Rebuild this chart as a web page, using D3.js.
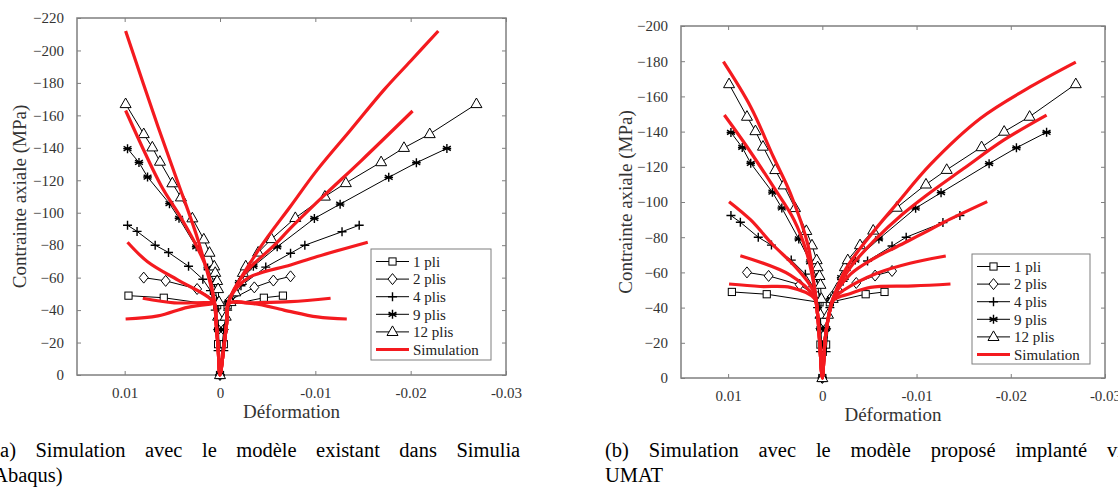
<!DOCTYPE html>
<html lang="fr">
<head>
<meta charset="UTF-8">
<title>Contrainte axiale vs déformation</title>
<style>
  body { margin: 0; background: #fff; overflow: hidden; }
  svg text { font-family: "Liberation Serif", "Tinos", "Times New Roman", "DejaVu Serif", serif !important; }
</style>
<script src="https://d3js.org/d3.v7.min.js"></script>
</head>
<body>
<svg id="chart" width="1118" height="488"></svg>
<script>
// ---- data (strain, stress in MPa) ----
const strainTicks = [0.01, 0, -0.01, -0.02, -0.03];
const strainLabels = ["0.01", "0", "-0.01", "-0.02", "-0.03"];
const stressTicksA = [0, -20, -40, -60, -80, -100, -120, -140, -160, -180, -200, -220];
const stressTicksB = [0, -20, -40, -60, -80, -100, -120, -140, -160, -180, -200];
const seriesNames = ["1 pli", "2 plis", "4 plis", "9 plis", "12 plis"];

// experimental curves (same in both panels)
const exp1pli = [[0.0096,-48.9],[0.0059,-47.6],[0.0003,-43],[0.0002,-19],[0,0],[-0.0004,-19],[-0.0008,-43],[-0.0046,-47.6],[-0.0066,-48.9]];
const exp2plis = [[0.008,-60],[0.0057,-58],[0.0024,-53],[0.0005,-46],[0.0002,-28],[0,0],[-0.0004,-28],[-0.001,-46],[-0.0036,-54],[-0.0056,-58.2],[-0.0074,-60.8]];
const exp4plis = [[0.0097,-92.3],[0.0087,-88.5],[0.0068,-80],[0.0054,-75.5],[0.0033,-67],[0.0018,-59],[0.001,-52],[0.0005,-40],[0.0002,-15],[0,0],[-0.0004,-15],[-0.0008,-40],[-0.0022,-55],[-0.0048,-66.5],[-0.0074,-75],[-0.0089,-80],[-0.0128,-88.3],[-0.0146,-92.3]];
const exp9plis = [[0.0097,-139.5],[0.0085,-131],[0.0076,-122],[0.0053,-105.6],[0.0043,-96.6],[0.0025,-79],[0.0013,-66],[0.0006,-57],[0.0003,-45],[0.0002,-28],[0,0],[-0.0004,-28],[-0.0009,-45],[-0.002,-57],[-0.0035,-67],[-0.006,-79],[-0.0099,-96.5],[-0.0126,-105.3],[-0.0177,-121.8],[-0.0206,-130.8],[-0.0238,-139.6]];
const exp12plis = [[0.0099,-167],[0.008,-148.5],[0.0071,-140.3],[0.0063,-131.5],[0.005,-118.2],[0.0041,-109.5],[0.0029,-96.6],[0.0017,-83.6],[0.0011,-75.4],[0.0006,-67],[0.0005,-63],[0.0003,-58],[0.0002,-53],[0.0001,-45],[0.0002,-36],[0,0],[-0.0006,-36],[-0.0011,-45],[-0.0016,-51],[-0.0022,-58],[-0.0024,-63],[-0.0027,-67],[-0.004,-75.5],[-0.0054,-83.8],[-0.0079,-96.8],[-0.011,-110],[-0.0132,-118.3],[-0.0169,-131.2],[-0.0193,-140],[-0.022,-148.5],[-0.0269,-167]];

// simulation, existing Abaqus model (a)
const simA1 = [[0.0099,-212],[0.0065,-153],[0.0045,-120],[0.0023,-83],[0.0006,-45],[0.0004,-32],[0.0002,-17],[0,0],[-0.0004,-17],[-0.0007,-32],[-0.0009,-45],[-0.0041,-77.5],[-0.0074,-104],[-0.0102,-126.4],[-0.0137,-151],[-0.0172,-175.7],[-0.02,-193.5],[-0.0229,-212]];
const simA2 = [[0.0099,-163],[0.0062,-117],[0.0042,-98],[0.0025,-80],[0.0013,-64],[0.0006,-46],[0.0004,-32],[0.0002,-17],[0,0],[-0.0004,-17],[-0.0007,-32],[-0.0009,-45],[-0.0025,-62],[-0.0057,-80],[-0.0074,-90.5],[-0.0109,-110.5],[-0.0148,-132],[-0.0202,-162.7]];
const simA3 = [[0.0097,-81.8],[0.0076,-69.8],[0.0044,-58.5],[0.0013,-48.3],[0.0006,-44],[0.0004,-32],[0.0002,-17],[0,0],[-0.0004,-17],[-0.0007,-32],[-0.0009,-45],[-0.0018,-54],[-0.0032,-60.6],[-0.0074,-67.8],[-0.0102,-73],[-0.0155,-81.8]];
const simA4 = [[0.0081,-47.3],[0.0048,-44.5],[0.0013,-44.6],[0.0006,-44],[0.0004,-32],[0.0002,-17],[0,0],[-0.0004,-17],[-0.0007,-32],[-0.0009,-44],[-0.0032,-44.4],[-0.0074,-45.2],[-0.0116,-47.3]];
const simA5 = [[0.0099,-34.5],[0.0065,-36.4],[0.0034,-41.7],[0.0009,-43.8],[0.0006,-44],[0.0004,-32],[0.0002,-17],[0,0],[-0.0004,-17],[-0.0007,-32],[-0.0009,-44],[-0.0035,-44],[-0.0067,-40],[-0.0102,-35.8],[-0.0133,-34.5]];

// simulation, proposed UMAT model (b)
const simB1 = [[0.0105,-179.7],[0.0076,-154],[0.0052,-125.7],[0.0034,-105],[0.0015,-75],[0.0008,-50],[0.0005,-36],[0.0003,-22],[0,0],[-0.0003,-22],[-0.0007,-36],[-0.0012,-46],[-0.0025,-62],[-0.0051,-81],[-0.0079,-99],[-0.0115,-121.5],[-0.0168,-147.6],[-0.0221,-165.5],[-0.0269,-179.5]];
const simB2 = [[0.0104,-149.4],[0.008,-131.4],[0.0052,-108.7],[0.003,-89.8],[0.0017,-72],[0.0008,-50],[0.0005,-36],[0.0003,-22],[0,0],[-0.0003,-22],[-0.0007,-36],[-0.0012,-46],[-0.003,-63],[-0.0055,-78],[-0.0085,-93],[-0.0111,-104],[-0.015,-119],[-0.0192,-135],[-0.0238,-149.4]];
const simB3 = [[0.0099,-100.2],[0.0076,-89.8],[0.0053,-76],[0.003,-64],[0.0013,-52.8],[0.0008,-47],[0.0005,-36],[0.0003,-22],[0,0],[-0.0003,-22],[-0.0007,-36],[-0.0012,-46],[-0.003,-59],[-0.0055,-68],[-0.0079,-74.6],[-0.0115,-84.4],[-0.0129,-88.5],[-0.0175,-100.2]];
const simB4 = [[0.0087,-69.5],[0.0034,-58.5],[0.0009,-46.2],[0.0005,-36],[0.0003,-22],[0,0],[-0.0003,-22],[-0.0007,-36],[-0.0012,-45],[-0.0023,-50],[-0.0058,-59.5],[-0.0093,-65.2],[-0.0131,-69.3]];
const simB5 = [[0.0099,-53.4],[0.0066,-52],[0.0034,-51.5],[0.0008,-45],[0.0005,-36],[0.0003,-22],[0,0],[-0.0003,-22],[-0.0007,-36],[-0.0012,-44.3],[-0.003,-48],[-0.0051,-51.5],[-0.0097,-52.3],[-0.0136,-53.4]];

const captionA = ["(a) Simulation avec le modèle existant dans Simulia", "Abaqus)"];
const captionB = ["(b) Simulation avec le modèle proposé implanté via", "UMAT"];

// ---- drawing ----
const svg = d3.select("#chart");
svg.append("rect").attr("width", 1118).attr("height", 488).attr("fill", "#fff");

const experiments = [exp1pli, exp2plis, exp4plis, exp9plis, exp12plis];
const markerKinds = ["square", "diamond", "plus", "asterisk", "triangle"];
const RED = "#f41a1f";
const FRAME = "#7f7f7f";

function marker(sel, kind) {
    if (kind === "square") {
        sel.append("rect").attr("x", -3.6).attr("y", -3.6).attr("width", 7.2).attr("height", 7.2)
            .attr("fill", "#fff").attr("stroke", "#000").attr("stroke-width", 1);
    } else if (kind === "diamond") {
        sel.append("path").attr("d", "M0,-5.5L4.5,0L0,5.5L-4.5,0Z")
            .attr("fill", "#fff").attr("stroke", "#000").attr("stroke-width", 1);
    } else if (kind === "triangle") {
        sel.append("path").attr("d", "M0,-6L5.5,3.6L-5.5,3.6Z")
            .attr("fill", "#fff").attr("stroke", "#000").attr("stroke-width", 1);
    } else if (kind === "plus") {
        sel.append("path").attr("d", "M-4.5,0H4.5M0,-4.5V4.5")
            .attr("stroke", "#000").attr("stroke-width", 1.4);
    } else {
        sel.append("path").attr("d", "M0,-4.5V4.5M-3.9,-2.25L3.9,2.25M-3.9,2.25L3.9,-2.25M-4.3,0H4.3")
            .attr("stroke", "#000").attr("stroke-width", 1.4);
    }
}

function drawPanel(cfg) {
    const g = svg.append("g");
    const x = d3.scaleLinear().domain([0.015, -0.03]).range([cfg.left, cfg.right]);
    const y = d3.scaleLinear().domain([0, cfg.yMin]).range([cfg.bottom, cfg.top]);

    // axes with inward ticks on all four sides
    const fmtX = d => strainLabels[strainTicks.indexOf(d)];
    g.append("g").attr("transform", `translate(0,${cfg.bottom})`)
        .call(d3.axisBottom(x).tickValues(strainTicks).tickFormat(fmtX).tickSizeInner(-4).tickSizeOuter(0).tickPadding(12));
    g.append("g").attr("transform", `translate(0,${cfg.top})`)
        .call(d3.axisTop(x).tickValues(strainTicks).tickFormat("").tickSizeInner(-4).tickSizeOuter(0));
    g.append("g").attr("transform", `translate(${cfg.left},0)`)
        .call(d3.axisLeft(y).tickValues(cfg.yTicks).tickSizeInner(-4).tickSizeOuter(0).tickPadding(13));
    g.append("g").attr("transform", `translate(${cfg.right},0)`)
        .call(d3.axisRight(y).tickValues(cfg.yTicks).tickFormat("").tickSizeInner(-4).tickSizeOuter(0));
    g.selectAll(".domain").remove();
    g.selectAll(".tick line").attr("stroke", FRAME);
    g.selectAll(".tick text").attr("font-size", 15).attr("fill", "#333");
    g.append("rect").attr("x", cfg.left).attr("y", cfg.top)
        .attr("width", cfg.right - cfg.left).attr("height", cfg.bottom - cfg.top)
        .attr("fill", "none").attr("stroke", FRAME).attr("stroke-width", 1.5);

    // experimental series
    const line = d3.line().x(d => x(d[0])).y(d => y(d[1]));
    experiments.forEach((data, i) => {
        g.append("path").attr("d", line(data)).attr("fill", "none")
            .attr("stroke", "#000").attr("stroke-width", 1);
        g.append("g").selectAll("g").data(data).join("g")
            .attr("transform", d => `translate(${x(d[0])},${y(d[1])})`)
            .each(function () { marker(d3.select(this), markerKinds[i]); });
    });

    // simulation curves
    const smooth = d3.line().x(d => x(d[0])).y(d => y(d[1])).curve(d3.curveCatmullRom.alpha(0.5));
    cfg.sims.forEach(data => {
        g.append("path").attr("d", smooth(data)).attr("fill", "none")
            .attr("stroke", RED).attr("stroke-width", 3.2).attr("stroke-linejoin", "round");
    });

    // axis titles
    g.append("text").attr("x", (cfg.left + cfg.right) / 2).attr("y", cfg.xTitleY)
        .attr("text-anchor", "middle").attr("font-size", 19).attr("fill", "#333").text("Déformation");
    g.append("text").attr("transform", `translate(${cfg.yTitleX},${(cfg.top + cfg.bottom) / 2}) rotate(-90)`)
        .attr("text-anchor", "middle").attr("font-size", 19).attr("fill", "#333").text("Contrainte axiale (MPa)");

    // legend
    const lg = g.append("g").attr("transform", `translate(${cfg.legX},${cfg.legY})`);
    lg.append("rect").attr("width", cfg.legW).attr("height", cfg.legH)
        .attr("fill", "#fff").attr("stroke", FRAME).attr("stroke-width", 1);
    const labels = seriesNames.concat(["Simulation"]);
    labels.forEach((name, i) => {
        const row = lg.append("g").attr("transform", `translate(0,${12.5 + i * 17.6})`);
        if (i < 5) {
            row.append("line").attr("x1", 5).attr("x2", 38).attr("stroke", "#000").attr("stroke-width", 1);
            marker(row.append("g").attr("transform", "translate(21.5,0)"), markerKinds[i]);
        } else {
            row.append("line").attr("x1", 5).attr("x2", 38).attr("stroke", RED).attr("stroke-width", 3.2);
        }
        row.append("text").attr("x", 42).attr("dy", "0.35em").attr("font-size", 15).attr("fill", "#222").text(name);
    });
}

drawPanel({ left: 77, right: 506, top: 18, bottom: 375, yMin: -220, yTicks: stressTicksA,
    sims: [simA1, simA2, simA3, simA4, simA5], xTitleY: 418, yTitleX: 26,
    legX: 371, legY: 249, legW: 120, legH: 111 });
drawPanel({ left: 681, right: 1105, top: 26, bottom: 378, yMin: -200, yTicks: stressTicksB,
    sims: [simB1, simB2, simB3, simB4, simB5], xTitleY: 421, yTitleX: 632,
    legX: 972, legY: 254, legW: 118, legH: 110 });

// justified two-line captions
function caption(lines, x0, width) {
    lines.forEach((txt, i) => {
        const t = svg.append("text").attr("x", x0).attr("y", 456.5 + i * 25)
            .attr("font-size", 20.5).attr("fill", "#000").text(txt);
        if (i === 0) {
            const natural = t.node().getComputedTextLength();
            const gaps = txt.split(" ").length - 1;
            t.attr("word-spacing", (width - natural) / gaps);
        }
    });
}
caption(captionA, -6.8, 527);
caption(captionB, 605, 527);
</script>
</body>
</html>
